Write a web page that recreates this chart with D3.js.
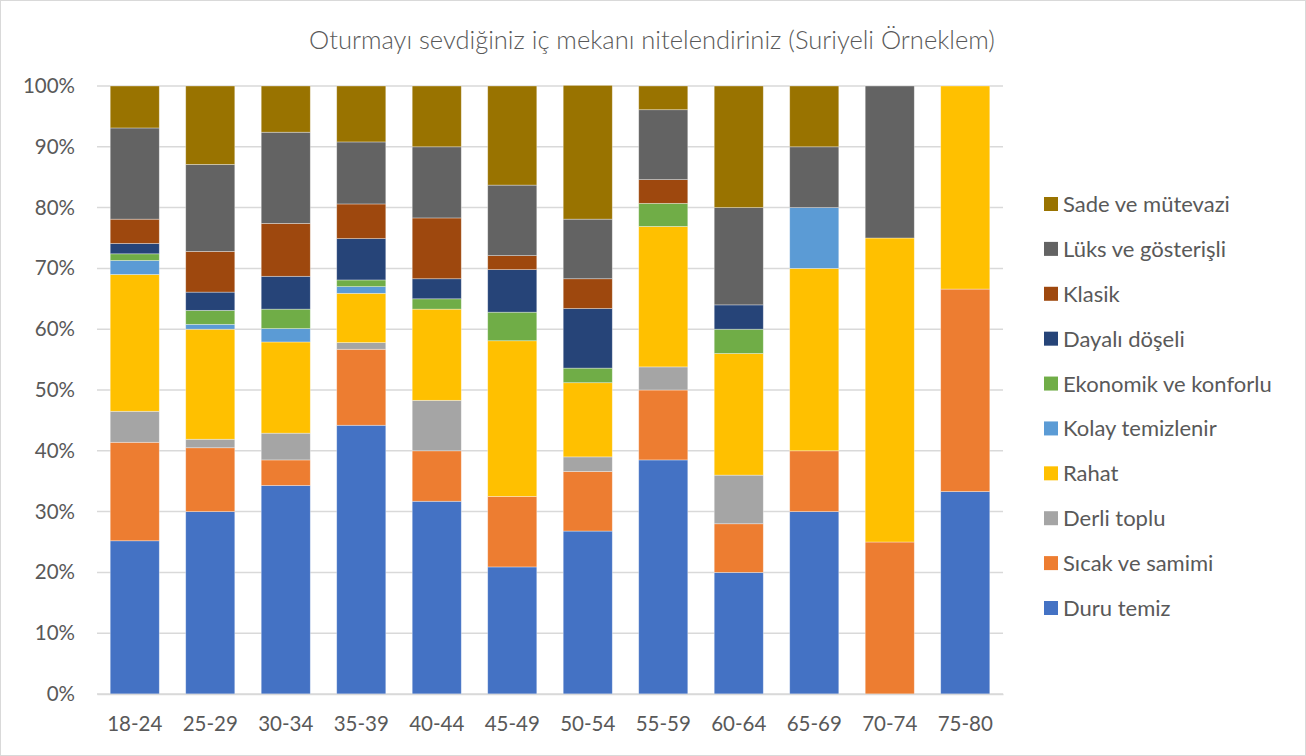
<html>
  <head>
    <title>Oturmayı sevdiğiniz iç mekanı nitelendiriniz</title>
    <script src="https://cdn.jsdelivr.net/npm/d3@7/dist/d3.min.js"></script>
    <style>
      body { margin: 0; background: #fff; }
      text { font-family: Lato, "Open Sans", sans-serif; fill: #595959; }
    </style>
  </head>
  <body>
    <script>
      const w = 1306;
      const h = 756;

      const ageGroups = ["18-24", "25-29", "30-34", "35-39", "40-44", "45-49", "50-54", "55-59", "60-64", "65-69", "70-74", "75-80"];
      const seriesNames = ["Duru temiz", "Sıcak ve samimi", "Derli toplu", "Rahat", "Kolay temizlenir", "Ekonomik ve konforlu", "Dayalı döşeli", "Klasik", "Lüks ve gösterişli", "Sade ve mütevazi"];
      const seriesColors = ["#4472C4", "#ED7D31", "#A5A5A5", "#FFC000", "#5B9BD5", "#70AD47", "#264478", "#9E480E", "#636363", "#997300"];

      // percentages per age group, in series order above
      const duruTemiz = [25.2, 30.0, 34.3, 44.2, 31.7, 20.9, 26.8, 38.5, 20, 30, 0, 33.3];
      const sicakSamimi = [16.2, 10.5, 4.2, 12.5, 8.3, 11.6, 9.8, 11.5, 8, 10, 25, 33.3];
      const derliToplu = [5.1, 1.4, 4.4, 1.1, 8.3, 0, 2.4, 3.8, 8, 0, 0, 0];
      const rahat = [22.5, 18.1, 15.0, 8.1, 15.0, 25.6, 12.2, 23.1, 20, 30, 50, 33.4];
      const kolayTemizlenir = [2.3, 0.8, 2.2, 1.1, 0, 0, 0, 0, 0, 10, 0, 0];
      const ekonomikKonforlu = [1.1, 2.3, 3.2, 1.1, 1.7, 4.7, 2.4, 3.8, 4, 0, 0, 0];
      const dayaliDoseli = [1.7, 3.0, 5.4, 6.8, 3.3, 7.0, 9.8, 0, 4, 0, 0, 0];
      const klasik = [4.0, 6.7, 8.7, 5.7, 10.0, 2.3, 4.9, 3.9, 0, 0, 0, 0];
      const luksGosterisli = [15.0, 14.3, 15.0, 10.2, 11.7, 11.6, 9.8, 11.5, 16, 10, 25, 0];
      const sadeMutevazi = [6.9, 12.9, 7.6, 9.2, 10.0, 16.3, 22.0, 3.9, 20, 10, 0, 0];

      const yTicks = [0, 10, 20, 30, 40, 50, 60, 70, 80, 90, 100];

      const values = [duruTemiz, sicakSamimi, derliToplu, rahat, kolayTemizlenir, ekonomikKonforlu, dayaliDoseli, klasik, luksGosterisli, sadeMutevazi];

      const table = ageGroups.map(function (g, i) {
        const row = { group: g };
        seriesNames.forEach(function (s, j) { row[s] = values[j][i]; });
        return row;
      });
      const stacked = d3.stack().keys(seriesNames)(table);

      const plotLeft = 97, plotRight = 1003, plotTop = 86, plotBottom = 694;

      const xScale = d3.scaleBand().domain(ageGroups).range([plotLeft, plotRight]).paddingInner(0.35).paddingOuter(0.175);
      const yScale = d3.scaleLinear().domain([0, 100]).range([plotBottom, plotTop]);

      const svg = d3.select("body").append("svg").attr("width", w).attr("height", h);

      svg.append("rect")
        .attr("x", 0.5).attr("y", 0.5).attr("width", w - 1).attr("height", h - 1)
        .attr("fill", "#fff").attr("stroke", "#d9d9d9");

      // grid
      svg.append("g")
        .selectAll("line")
        .data(yTicks)
        .join("line")
        .attr("x1", plotLeft).attr("x2", plotRight)
        .attr("y1", (d) => yScale(d)).attr("y2", (d) => yScale(d))
        .attr("stroke", "#d9d9d9").attr("stroke-width", 1.5);

      // bars
      svg.append("g")
        .selectAll("g")
        .data(stacked)
        .join("g")
        .attr("fill", (d, i) => seriesColors[i])
        .selectAll("rect")
        .data((d) => d.filter((p) => p[1] - p[0] > 0))
        .join("rect")
        .attr("x", (d) => xScale(d.data.group))
        .attr("width", xScale.bandwidth())
        .attr("y", (d) => yScale(d[1]))
        .attr("height", (d) => yScale(d[0]) - yScale(d[1]))
        .attr("stroke", "rgba(255,255,255,0.45)")
        .attr("stroke-width", 0.75);

      // y axis labels
      const yAxis = d3.axisLeft(yScale).tickValues(yTicks).tickFormat((d) => d + "%").tickSize(0).tickPadding(0);
      const yg = svg.append("g").attr("transform", "translate(75,0)").call(yAxis);
      yg.select(".domain").remove();
      yg.selectAll("text").style("font-size", "20.5px").style("font-family", "Lato, sans-serif").attr("fill", "#595959");

      // x axis
      const xAxis = d3.axisBottom(xScale).tickSize(0).tickPadding(22);
      const xg = svg.append("g").attr("transform", "translate(0," + plotBottom + ")").call(xAxis);
      xg.select(".domain").attr("stroke", "#d9d9d9").attr("stroke-width", 1.5);
      xg.selectAll("text").style("font-size", "20.5px").style("font-family", "Lato, sans-serif").attr("fill", "#595959");

      // title
      svg.append("text")
        .attr("x", 652).attr("y", 49)
        .attr("text-anchor", "middle")
        .style("font-size", "25.5px").style("font-weight", 300)
        .text("Oturmayı sevdiğiniz iç mekanı nitelendiriniz (Suriyeli Örneklem)");

      // legend (top to bottom = reverse series order)
      const legendNames = seriesNames.slice().reverse();
      const legendColors = seriesColors.slice().reverse();
      const legendY = d3.scalePoint().domain(legendNames).range([204, 608]);
      const lg = svg.append("g").selectAll("g").data(legendNames).join("g")
        .attr("transform", (d) => "translate(1044," + legendY(d) + ")");
      lg.append("rect").attr("x", 0).attr("y", -7).attr("width", 14).attr("height", 14)
        .attr("fill", (d, i) => legendColors[i]);
      lg.append("text").attr("x", 19).attr("y", 8).style("font-size", "22px").text((d) => d);
    </script>
  </body>
</html>
